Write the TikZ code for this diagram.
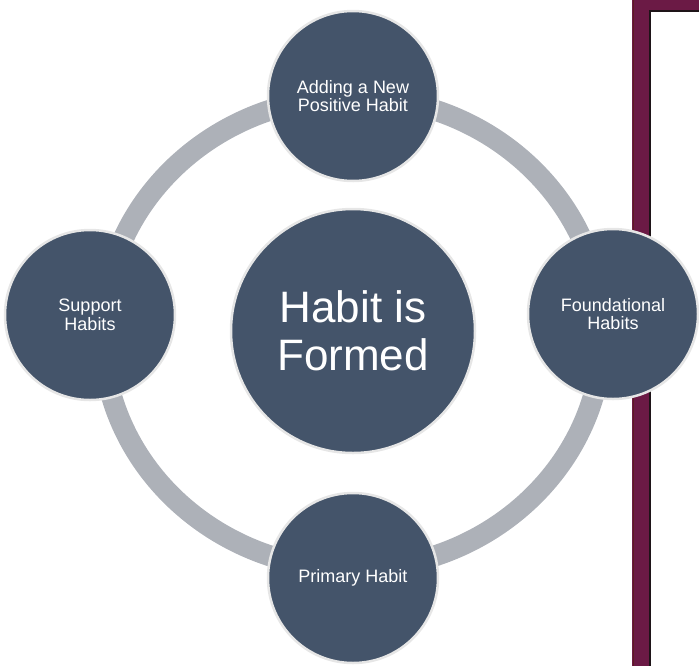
\documentclass[tikz,border=0pt]{standalone}
\usepackage{fontspec}
\setmainfont{Liberation Sans}
\definecolor{nodefill}{HTML}{44546A}
\definecolor{nodeedge}{HTML}{E6E6E6}
\definecolor{ringgray}{HTML}{ADB1B8}
\definecolor{maroon}{HTML}{6B1A45}
\definecolor{maroonedge}{HTML}{5E1A22}
\definecolor{paneledge}{HTML}{1E1418}
\tikzset{
  smallhabit/.style={circle, fill=nodefill, draw=nodeedge, line width=2.5pt,
    minimum size=170pt, inner sep=0pt, text=white, align=center,
    font=\fontsize{18}{18.5}\selectfont},
  bighabit/.style={circle, fill=nodefill, draw=nodeedge, line width=2.5pt,
    minimum size=244pt, inner sep=0pt, text=white, align=center,
    font=\fontsize{44}{48}\selectfont},
  ring/.style={draw=ringgray, line width=21pt},
}
\begin{document}
\begin{tikzpicture}[x=1pt,y=-1pt]
\useasboundingbox (0,0) rectangle (699,665);
% right frame
\fill[maroon] (632,-5) rectangle (710,670);
\draw[maroonedge, line width=1.5pt] (633.5,-5) -- (633.5,670);
\fill[white] (650,11) rectangle (710,670);
\draw[paneledge, line width=2pt] (650,670) -- (650,11) -- (710,11);
% node positions
\coordinate (ptop) at (353,96);
\coordinate (pright) at (613,314);
\coordinate (pbottom) at (353,578);
\coordinate (pleft) at (90,315);
\coordinate (pcenter) at (353,331);
\coordinate (pring) at (352.5,333);
% ring
\draw[ring] (pring) ellipse [x radius=250pt, y radius=236pt];
% nodes
\node[bighabit] (center) at (pcenter) {Habit is\\Formed};
\node[smallhabit] (top) at (ptop) {Adding a New\\Positive Habit};
\node[smallhabit] (right) at (pright) {Foundational\\Habits};
\node[smallhabit] (bottom) at (pbottom) {Primary Habit};
\node[smallhabit] (left) at (pleft) {Support\\Habits};
\end{tikzpicture}
\end{document}
